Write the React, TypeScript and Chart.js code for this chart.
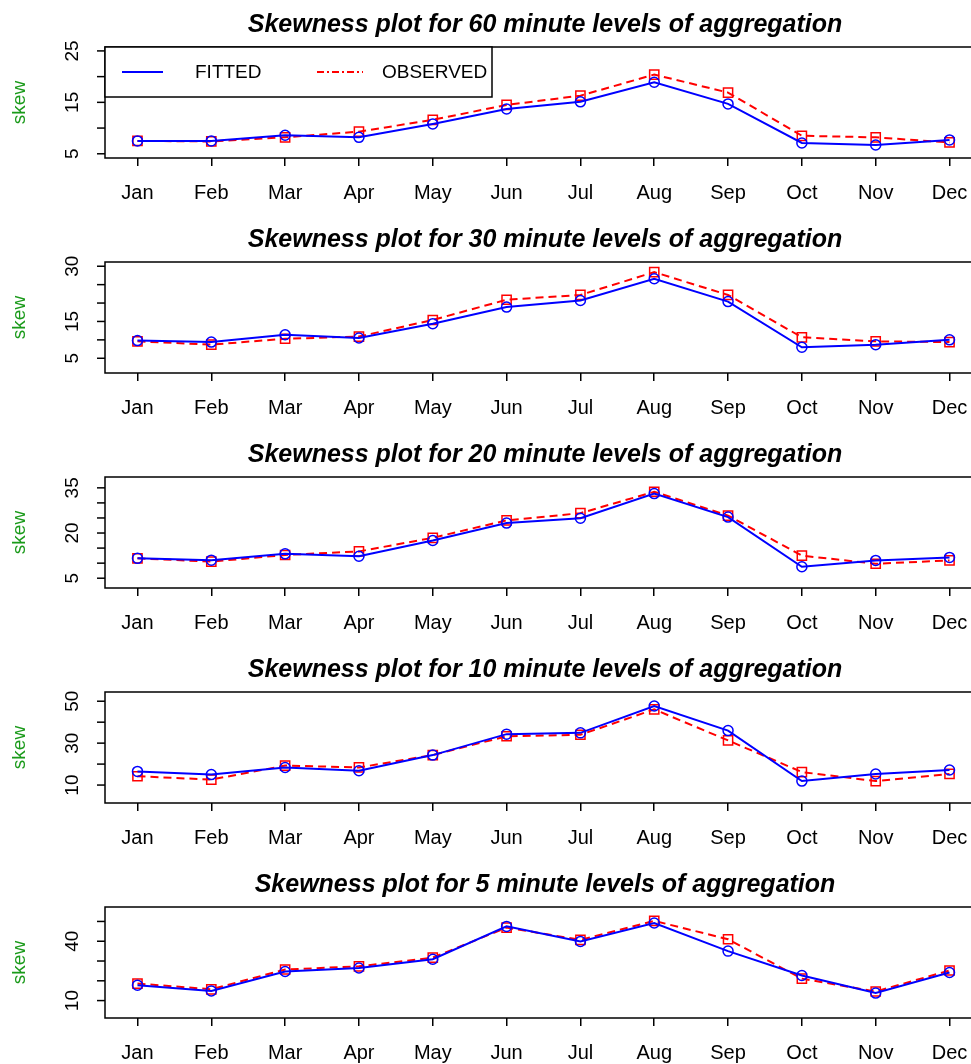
import { useEffect, useRef } from "react";
import { Chart, registerables, Plugin } from "chart.js";

Chart.register(...registerables);

const months = ["Jan", "Feb", "Mar", "Apr", "May", "Jun", "Jul", "Aug", "Sep", "Oct", "Nov", "Dec"];

const fitted60 = [7.5, 7.5, 8.6, 8.2, 10.8, 13.7, 15.1, 18.9, 14.7, 7.1, 6.7, 7.7];
const observed60 = [7.5, 7.4, 8.2, 9.3, 11.6, 14.5, 16.3, 20.4, 16.9, 8.5, 8.2, 7.2];
const fitted30 = [9.8, 9.4, 11.4, 10.5, 14.4, 18.9, 20.7, 26.6, 20.4, 8.0, 8.7, 10.0];
const observed30 = [9.6, 8.7, 10.3, 10.9, 15.4, 20.9, 22.2, 28.4, 22.2, 10.7, 9.6, 9.4];
const fitted20 = [11.6, 11.0, 13.1, 12.3, 17.5, 23.3, 24.9, 33.1, 25.3, 8.8, 10.9, 11.9];
const observed20 = [11.6, 10.5, 12.7, 13.9, 18.4, 24.2, 26.6, 33.7, 25.8, 12.5, 9.8, 10.9];
const fitted10 = [16.5, 15.0, 18.4, 16.8, 24.3, 34.3, 34.9, 47.7, 36.0, 11.9, 15.3, 17.2];
const observed10 = [14.2, 12.6, 19.3, 18.4, 24.3, 33.3, 34.0, 46.1, 31.3, 16.2, 11.9, 15.3];
const fitted5 = [17.8, 14.9, 24.7, 26.5, 30.9, 47.5, 39.9, 49.2, 35.0, 22.7, 13.8, 24.2];
const observed5 = [18.6, 15.7, 25.7, 27.3, 31.7, 46.9, 40.7, 50.3, 41.0, 21.1, 14.6, 25.2];

const panels = [
  { level: 60, fitted: fitted60, observed: observed60, yMin: 4.18, yMax: 25.76, ticks: [5, 10, 15, 20, 25], labels: [5, 15, 25], legend: true },
  { level: 30, fitted: fitted30, observed: observed30, yMin: 1.0, yMax: 31.15, ticks: [5, 10, 15, 20, 25, 30], labels: [5, 15, 30], legend: false },
  { level: 20, fitted: fitted20, observed: observed20, yMin: 1.75, yMax: 38.6, ticks: [5, 10, 15, 20, 25, 30, 35], labels: [5, 20, 35], legend: false },
  { level: 10, fitted: fitted10, observed: observed10, yMin: 1.44, yMax: 54.4, ticks: [10, 20, 30, 40, 50], labels: [10, 30, 50], legend: false },
  { level: 5, fitted: fitted5, observed: observed5, yMin: 1.2, yMax: 57.3, ticks: [10, 20, 30, 40, 50], labels: [10, 40], legend: false },
];

const FONT = "'Liberation Sans', Arial, sans-serif";

function Panel({ p }: { p: (typeof panels)[number] }) {
  const ref = useRef<HTMLCanvasElement>(null);

  useEffect(() => {
    if (!ref.current) return;
    const frame: Plugin = {
      id: "frame",
      afterDraw(chart) {
        const { ctx, chartArea: a } = chart;
        const y = chart.scales.y;
        ctx.save();
        ctx.strokeStyle = "#000";
        ctx.lineWidth = 1.5;
        ctx.strokeRect(a.left, a.top, a.right - a.left, a.bottom - a.top);
        ctx.fillStyle = "#000";
        ctx.font = `19px ${FONT}`;
        ctx.textAlign = "center";
        ctx.textBaseline = "middle";
        for (const t of p.ticks) {
          const py = y.getPixelForValue(t);
          ctx.beginPath();
          ctx.moveTo(a.left, py);
          ctx.lineTo(a.left - 8, py);
          ctx.stroke();
          if (p.labels.includes(t)) {
            ctx.save();
            ctx.translate(73, py);
            ctx.rotate(-Math.PI / 2);
            ctx.fillText(String(t), 0, 0);
            ctx.restore();
          }
        }
        ctx.save();
        ctx.fillStyle = "#1a9a1a";
        ctx.translate(20, (a.top + a.bottom) / 2);
        ctx.rotate(-Math.PI / 2);
        ctx.fillText("skew", 0, 0);
        ctx.restore();
        ctx.font = `bold italic 25px ${FONT}`;
        ctx.fillText(`Skewness plot for ${p.level} minute levels of aggregation`, 545, 25);
        if (p.legend) {
          ctx.fillStyle = "#fff";
          ctx.fillRect(a.left, a.top, 387, 50);
          ctx.strokeRect(a.left, a.top, 387, 50);
          ctx.lineWidth = 2;
          ctx.strokeStyle = "#0000ff";
          ctx.beginPath();
          ctx.moveTo(a.left + 17, a.top + 25);
          ctx.lineTo(a.left + 58, a.top + 25);
          ctx.stroke();
          ctx.strokeStyle = "#ff0000";
          ctx.setLineDash([7, 3, 2, 3]);
          ctx.beginPath();
          ctx.moveTo(a.left + 212, a.top + 25);
          ctx.lineTo(a.left + 258, a.top + 25);
          ctx.stroke();
          ctx.setLineDash([]);
          ctx.fillStyle = "#000";
          ctx.font = `19px ${FONT}`;
          ctx.textAlign = "left";
          ctx.fillText("FITTED", a.left + 90, a.top + 26);
          ctx.fillText("OBSERVED", a.left + 277, a.top + 26);
        }
        ctx.restore();
      },
    };

    const chart = new Chart(ref.current, {
      type: "line",
      data: {
        datasets: [
          {
            label: "FITTED",
            data: p.fitted.map((v, i) => ({ x: i + 1, y: v })),
            borderColor: "#0000ff",
            borderWidth: 2,
            pointStyle: "circle",
            pointRadius: 5,
            pointBorderColor: "#0000ff",
            pointBackgroundColor: "transparent",
            pointBorderWidth: 1.5,
          },
          {
            label: "OBSERVED",
            data: p.observed.map((v, i) => ({ x: i + 1, y: v })),
            borderColor: "#ff0000",
            borderWidth: 2,
            borderDash: [8, 5],
            pointStyle: "rect",
            pointRadius: 6.5,
            pointBorderColor: "#ff0000",
            pointBackgroundColor: "transparent",
            pointBorderWidth: 1.5,
          },
        ],
      },
      options: {
        animation: false,
        responsive: false,
        layout: { padding: { left: 105, top: 47, right: 18, bottom: -5 } },
        plugins: { legend: { display: false }, tooltip: { enabled: false } },
        scales: {
          x: {
            type: "linear",
            min: 0.56,
            max: 12.44,
            afterBuildTicks: (s) => {
              s.ticks = months.map((_, i) => ({ value: i + 1 }));
            },
            ticks: {
              autoSkip: false,
              maxRotation: 0,
              padding: 15,
              color: "#000",
              font: { family: FONT, size: 20 },
              callback: (v) => months[Number(v) - 1] ?? "",
            },
            grid: { drawOnChartArea: false, tickLength: 8, color: "#000", lineWidth: 1.5 },
            border: { display: false },
          },
          y: { display: false, min: p.yMin, max: p.yMax },
        },
      },
      plugins: [frame],
    });
    return () => chart.destroy();
  }, [p]);

  return <canvas ref={ref} width={1000} height={215} style={{ display: "block", width: 1000, height: 215 }} />;
}

export default function App() {
  useEffect(() => {
    document.body.style.margin = "0";
  }, []);
  return (
    <div style={{ width: 971, overflow: "hidden", background: "#fff" }}>
      {panels.map((p) => (
        <Panel key={p.level} p={p} />
      ))}
    </div>
  );
}
